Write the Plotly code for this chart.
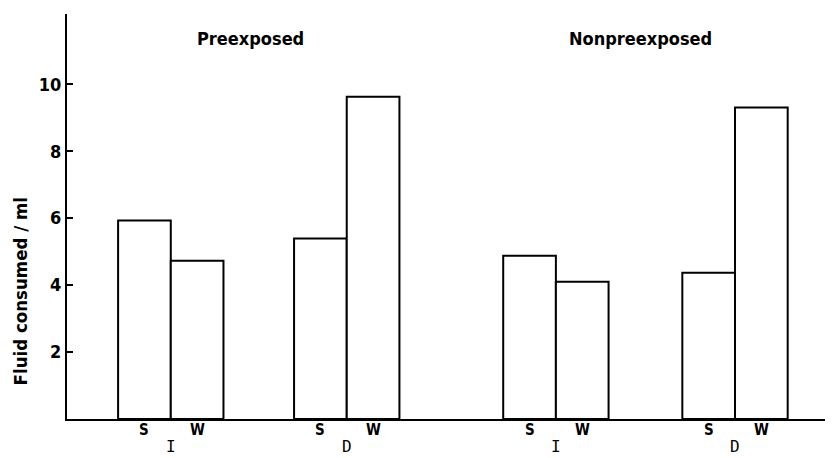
import plotly.graph_objects as go

# ---- data ----
conditions = ["Preexposed", "Nonpreexposed"]
groups = ["I", "D", "I", "D"]
fluids = ["S", "W"]
s_values = [5.93, 5.39, 4.88, 4.37]
w_values = [4.73, 9.63, 4.10, 9.31]
y_ticks = [2, 4, 6, 8, 10]
y_title = "Fluid consumed / ml"

# ---- layout positions (axis units, bar width = 1) ----
group_centers = [1.97, 5.31, 9.28, 12.68]
x_max = 14.54
y_max = 12.1

FONT = "DejaVu Sans Condensed"
MONO = "DejaVu Sans Mono"

s_pos = [c - 0.5 for c in group_centers]
w_pos = [c + 0.5 for c in group_centers]

fig = go.Figure()
bar_style = dict(marker=dict(color="white", line=dict(color="black", width=2)), width=1.0,
                 showlegend=False, hoverinfo="skip")
fig.add_trace(go.Bar(x=s_pos, y=s_values, name=fluids[0], **bar_style))
fig.add_trace(go.Bar(x=w_pos, y=w_values, name=fluids[1], **bar_style))

# S / W labels under each bar
for sp, wp in zip(s_pos, w_pos):
    for p, f in zip([sp, wp], fluids):
        fig.add_annotation(x=p, y=0, xref="x", yref="paper", text="<b>" + f + "</b>",
                           showarrow=False, yanchor="top", yshift=0,
                           font=dict(family=FONT, size=15, color="black"))

# group labels I / D
for c, g in zip(group_centers, groups):
    fig.add_annotation(x=c, y=0, xref="x", yref="paper", text=g, showarrow=False,
                       yanchor="top", yshift=-16, font=dict(family=MONO, size=16, color="black"))

# condition titles
title_x = [(group_centers[0] + group_centers[1]) / 2 - 0.15,
           (group_centers[2] + group_centers[3]) / 2 - 0.1]
for tx, t in zip(title_x, conditions):
    fig.add_annotation(x=tx, y=0.94, xref="x", yref="paper", text="<b>" + t + "</b>",
                       showarrow=False, yanchor="middle",
                       font=dict(family=FONT, size=18, color="black"))

# y-axis title (placed lower than centre, as in the reference)
fig.add_annotation(x=0, y=0.315, xref="paper", yref="paper", text="<b>" + y_title + "</b>",
                   textangle=-90, showarrow=False, xanchor="center", yanchor="middle",
                   xshift=-47, font=dict(family=FONT, size=18.5, color="black"))

fig.update_layout(
    width=825, height=458,
    margin=dict(l=59, r=0, t=6, b=46.5),
    paper_bgcolor="white", plot_bgcolor="white",
    barmode="overlay",
    font=dict(family=FONT, color="black"),
    xaxis=dict(range=[0, x_max], showline=True, linewidth=2, linecolor="black",
               showgrid=False, zeroline=False, ticks="", showticklabels=False),
    yaxis=dict(range=[0, y_max], showline=True, linewidth=2, linecolor="black",
               showgrid=False, zeroline=False, ticks="inside", ticklen=6, tickwidth=2,
               tickcolor="black",
               tickvals=y_ticks + [y_max - 0.01],
               ticktext=["<b>" + str(v) + "</b>" for v in y_ticks] + [""],
               tickfont=dict(family=FONT, size=18, color="black")),
)

fig.write_html("out.html")
